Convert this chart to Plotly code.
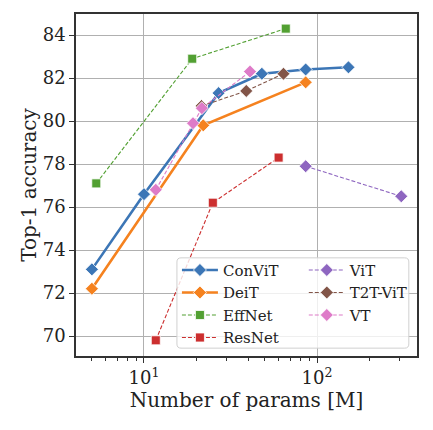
import plotly.graph_objects as go

# params in millions, top-1 accuracy (%)
convit_params = [5, 10, 27, 48, 86, 152]
convit_acc = [73.1, 76.6, 81.3, 82.2, 82.4, 82.5]

deit_params = [5, 22, 86]
deit_acc = [72.2, 79.8, 81.8]

effnet_params = [5.3, 19, 66]
effnet_acc = [77.1, 82.9, 84.3]

resnet_params = [11.7, 25, 60]
resnet_acc = [69.8, 76.2, 78.3]

vit_params = [86, 307]
vit_acc = [77.9, 76.5]

t2t_params = [21.5, 39, 64]
t2t_acc = [80.7, 81.4, 82.2]

vt_params = [11.7, 19.2, 21.6, 41]
vt_acc = [76.8, 79.9, 80.6, 82.3]

x_tickvals = [10, 100]
x_ticktext = ["10<sup>1</sup>", "10<sup>2</sup>"]
x_minor = [5, 6, 7, 8, 9, 20, 30, 40, 50, 60, 70, 80, 90, 200, 300]
y_ticks = [70, 72, 74, 76, 78, 80, 82, 84]

FONT = "DejaVu Serif"

# name, x, y, colour, symbol, solid?, legend
series = [
    ("ConViT", convit_params, convit_acc, "#3c76b6", "diamond", True, "legend"),
    ("DeiT", deit_params, deit_acc, "#f5821f", "diamond", True, "legend"),
    ("EffNet", effnet_params, effnet_acc, "#52a032", "square", False, "legend"),
    ("ResNet", resnet_params, resnet_acc, "#cc2f2f", "square", False, "legend"),
    ("ViT", vit_params, vit_acc, "#8e66c0", "diamond", False, "legend2"),
    ("T2T-ViT", t2t_params, t2t_acc, "#825548", "diamond", False, "legend2"),
    ("VT", vt_params, vt_acc, "#de7bc8", "diamond", False, "legend2"),
]

fig = go.Figure()
for name, xs, ys, col, sym, solid, leg in series:
    fig.add_trace(go.Scatter(
        x=xs, y=ys, name=name, mode="lines+markers", legend=leg,
        line=dict(color=col, width=2.6 if solid else 1.1,
                  dash="solid" if solid else "4px,2px"),
        marker=dict(symbol=sym, size=10 if sym == "diamond" else 9,
                    color=col, line=dict(color="white", width=0.8)),
    ))

# legend frame: rounded, semi-transparent, drawn over the lines
x0, x1, y0, y1, r = 0.296, 0.976, 0.023, 0.287, 0.012
frame = (f"M{x0 + r},{y0} L{x1 - r},{y0} Q{x1},{y0} {x1},{y0 + r} "
         f"L{x1},{y1 - r} Q{x1},{y1} {x1 - r},{y1} L{x0 + r},{y1} "
         f"Q{x0},{y1} {x0},{y1 - r} L{x0},{y0 + r} Q{x0},{y0} {x0 + r},{y0} Z")
fig.add_shape(type="path", xref="paper", yref="paper", path=frame,
              line=dict(color="#d0d0d0", width=1),
              fillcolor="rgba(255,255,255,0.8)", layer="above")

# page body adds an 8px margin, so the figure is 8px smaller
fig.update_layout(
    width=425, height=422,
    margin=dict(l=68, r=16, t=6, b=74),
    paper_bgcolor="white", plot_bgcolor="white",
    font=dict(family=FONT, size=18, color="#222"),
    legend=dict(x=0.296, y=0.299, xanchor="left", yanchor="top",
                bgcolor="rgba(0,0,0,0)", font=dict(size=15),
                tracegroupgap=0, itemwidth=36),
    legend2=dict(x=0.668, y=0.299, xanchor="left", yanchor="top",
                 bgcolor="rgba(0,0,0,0)", font=dict(size=15),
                 tracegroupgap=0, itemwidth=36),
)

fig.update_xaxes(
    type="log", range=[0.607, 2.578], automargin=False,
    tickvals=x_tickvals, ticktext=x_ticktext,
    ticks="outside", ticklen=5, tickcolor="#333",
    minor=dict(tickvals=x_minor, ticks="outside", ticklen=3, tickcolor="#333",
               showgrid=False),
    showgrid=True, gridcolor="#b0b0b0", gridwidth=1,
    showline=True, mirror=True, linecolor="#333", linewidth=1.5,
    zeroline=False,
    title=dict(text="Number of params [M]", font=dict(size=20), standoff=1),
)
fig.update_yaxes(
    range=[69.07, 84.98], tickvals=y_ticks, automargin=False,
    ticks="outside", ticklen=5, tickcolor="#333",
    showgrid=True, gridcolor="#b0b0b0", gridwidth=1,
    showline=True, mirror=True, linecolor="#333", linewidth=1.5,
    zeroline=False,
    title=dict(text="Top-1 accuracy", font=dict(size=20), standoff=1),
)

fig.write_html("out.html")
